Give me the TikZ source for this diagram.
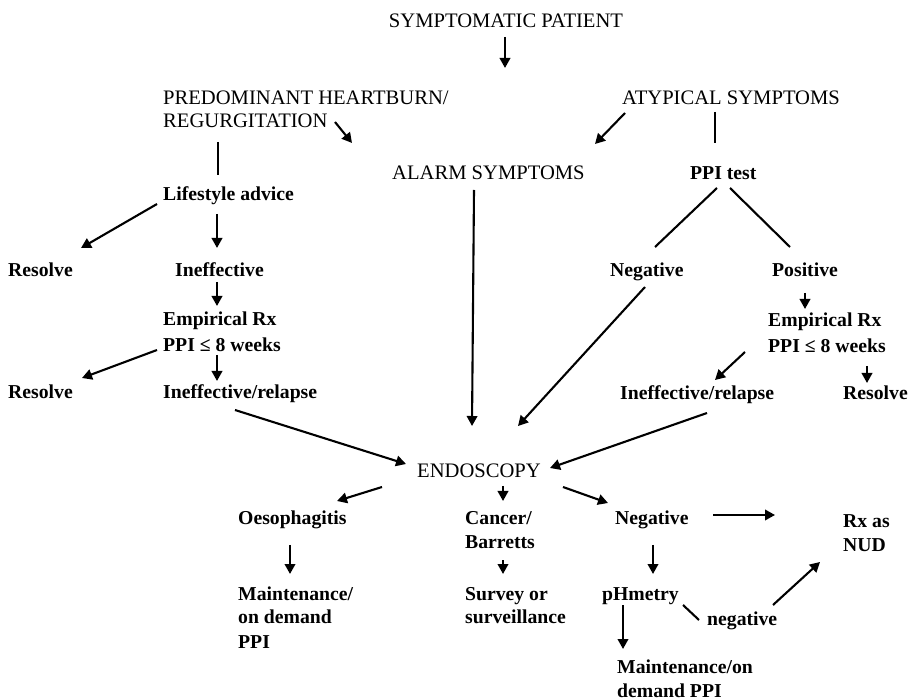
\documentclass[tikz,border=0pt]{standalone}
\usepackage{fontspec}
\setmainfont{Liberation Serif}
\usetikzlibrary{arrows.meta,calc}
\newcommand{\mlines}[1]{\begin{tabular}[t]{@{}l@{}}#1\end{tabular}}
\begin{document}
\begin{tikzpicture}[x=1pt,y=-1pt,
  capnode/.style={inner sep=0pt,anchor=base west,font=\fontsize{20.6}{23}\selectfont},
  lab/.style={inner sep=0pt,anchor=base west,font=\fontsize{19.7}{24}\selectfont\bfseries},
  labwide/.style={lab,font=\fontsize{19.7}{25.5}\selectfont\bfseries},
  arr/.style={line width=2.1pt,-{Triangle[length=10pt,width=10.5pt]}},
  ln/.style={line width=2.1pt}]
\fill[white] (0,0) rectangle (911,700);
\useasboundingbox (0,0) rectangle (911,700);

% nodes
\node[capnode,anchor=base] (sym) at (506,28) {SYMPTOMATIC PATIENT};
\node[capnode] (pred) at (163,105) {\mlines{PREDOMINANT HEARTBURN/\\REGURGITATION}};
\node[capnode] (atyp) at (622,105) {ATYPICAL SYMPTOMS};
\node[capnode] (alarm) at (392,180) {ALARM SYMPTOMS};
\node[lab] (ppi) at (690,180) {PPI test};
\node[lab] (life) at (163,201) {Lifestyle advice};
\node[lab] (res1) at (8,277) {Resolve};
\node[lab] (ineff1) at (175,277) {Ineffective};
\node[lab] (neg1) at (610,277) {Negative};
\node[lab] (pos) at (772,277) {Positive};
\node[labwide] (emp1) at (163,326) {\mlines{Empirical Rx\\PPI ≤ 8 weeks}};
\node[labwide] (emp2) at (768,327) {\mlines{Empirical Rx\\PPI ≤ 8 weeks}};
\node[lab] (res2) at (8,399) {Resolve};
\node[lab] (ineff2) at (163,399) {Ineffective/relapse};
\node[lab] (ineff3) at (620,400) {Ineffective/relapse};
\node[lab] (res3) at (843,400) {Resolve};
\node[capnode] (endo) at (417,478) {ENDOSCOPY};
\node[lab] (oeso) at (238,525) {Oesophagitis};
\node[lab] (cancer) at (465,525) {\mlines{Cancer/\\Barretts}};
\node[lab] (neg2) at (615,525) {Negative};
\node[lab] (nud) at (843,528) {\mlines{Rx as\\NUD}};
\node[lab] (maint1) at (238,600) {\mlines{Maintenance/\\on demand\\PPI}};
\node[lab] (survey) at (465,600) {\mlines{Survey or\\surveillance}};
\node[lab] (ph) at (602,600) {pHmetry};
\node[lab] (neglab) at (707,625) {negative};
\node[lab] (maint2) at (617,673) {\mlines{Maintenance/on\\demand PPI}};

% connectors
\draw[arr] ($(sym.base)+(-1,9)$) -- ($(sym.base)+(-1,40)$);
\draw[arr] ($(pred.base west)+(172,17)$) -- ($(alarm.base west)+(-40,-37)$);
\draw[arr] ($(atyp.base west)+(3,8)$) -- ($(alarm.base west)+(203,-36)$);
\draw[ln] ($(atyp.base west)+(93,7)$) -- ($(ppi.base west)+(25,-37)$);
\draw[ln] ($(pred.base west)+(55,37)$) -- ($(life.base west)+(55,-26)$);
\draw[arr] ($(life.base west)+(-6,3)$) -- ($(res1.base west)+(73,-29)$);
\draw[arr] ($(life.base west)+(54,13)$) -- ($(ineff1.base west)+(42,-29)$);
\draw[ln] ($(ppi.base west)+(27,8)$) -- ($(neg1.base west)+(45,-30)$);
\draw[ln] ($(ppi.base west)+(40,8)$) -- ($(pos.base west)+(18,-30)$);
\draw[arr] ($(ineff1.base west)+(42,5)$) -- ($(emp1.base west)+(54,-20)$);
\draw[arr] ($(emp1.base west)+(-6,24)$) -- ($(res2.base west)+(74,-21)$);
\draw[arr] ($(emp1.base west)+(54,29)$) -- ($(ineff2.base west)+(54,-18)$);
\draw[arr] ($(pos.base west)+(33,16)$) -- ($(emp2.base west)+(37,-18)$);
\draw[arr] ($(emp2.base west)+(-23,25)$) -- ($(ineff3.base west)+(95,-20)$);
\draw[arr] ($(emp2.base west)+(99,39)$) -- ($(res3.base west)+(24,-17)$);
\draw[arr] ($(alarm.base west)+(82,10)$) -- ($(endo.base west)+(55,-52)$);
\draw[arr] ($(neg1.base west)+(35,10)$) -- ($(endo.base west)+(101,-52)$);
\draw[arr] ($(ineff2.base west)+(72,11)$) -- ($(endo.base west)+(-11,-14)$);
\draw[arr] ($(ineff3.base west)+(87,13)$) -- ($(endo.base west)+(133,-10)$);
\draw[arr] ($(endo.base west)+(-35,9)$) -- ($(oeso.base west)+(99,-24)$);
\draw[arr] ($(endo.base west)+(86,8)$) -- ($(cancer.base west)+(38,-24)$);
\draw[arr] ($(endo.base west)+(146,9)$) -- ($(neg2.base west)+(-7,-22)$);
\draw[arr] ($(oeso.base west)+(52,20)$) -- ($(maint1.base west)+(52,-26)$);
\draw[arr] ($(cancer.base west)+(38,35)$) -- ($(survey.base west)+(38,-26)$);
\draw[arr] ($(neg2.base west)+(98,-10)$) -- ($(nud.base west)+(-68,-13)$);
\draw[arr] ($(neg2.base west)+(38,20)$) -- ($(ph.base west)+(51,-26)$);
\draw[arr] ($(ph.base west)+(21,5)$) -- ($(maint2.base west)+(6,-24)$);
\draw[ln] ($(ph.base west)+(81,5)$) -- ($(neglab.base west)+(-8,-5)$);
\draw[arr] ($(neglab.base west)+(66,-20)$) -- ($(nud.base west)+(-23,34)$);
\end{tikzpicture}
\end{document}
